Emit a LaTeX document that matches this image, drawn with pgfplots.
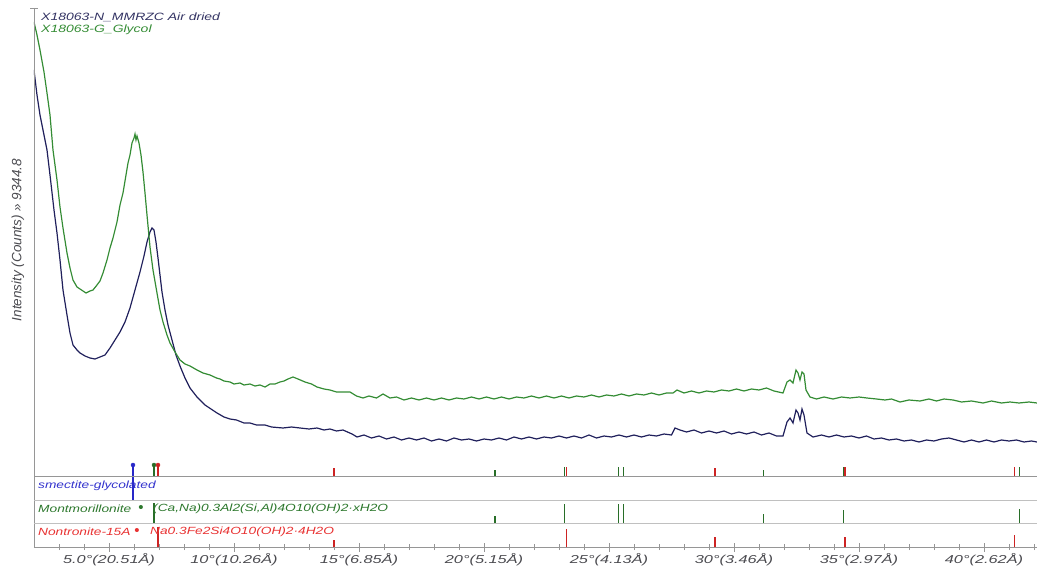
\documentclass[border=0pt]{standalone}
\usepackage{fontspec}
\setmainfont{Liberation Sans}
\newfontfamily\sfs[FakeStretch=1.32]{Liberation Sans}
\newfontfamily\sft[FakeStretch=1.42]{Liberation Sans}
\usepackage{pgfplots}
\pgfplotsset{compat=1.18}
\definecolor{cblue}{RGB}{32,32,92}
\definecolor{cgreen}{RGB}{52,140,52}
\definecolor{sgreen}{RGB}{40,110,40}
\definecolor{sred}{RGB}{205,35,35}
\definecolor{sblue}{RGB}{40,40,200}
\definecolor{lblue}{RGB}{50,50,205}
\definecolor{lgreen}{RGB}{45,120,45}
\definecolor{lred}{RGB}{232,50,50}
\definecolor{axgray}{RGB}{150,150,150}
\definecolor{txgray}{RGB}{75,75,80}
\begin{document}
\begin{tikzpicture}
\useasboundingbox (0pt,0pt) rectangle (1037pt,-569pt);
% main panel
\begin{axis}[at={(34pt,-476pt)}, anchor=south west, scale only axis,
  width=1003pt, height=468pt, xmin=2, xmax=42.12, ymin=0, ymax=468, hide axis, clip=true]
\addplot[cblue, line width=1.2pt] coordinates {
(2.00,406)(2.12,381)(2.24,361)(2.40,341)(2.52,326)(2.64,301)(2.80,266)(2.92,243)(3.04,216)(3.16,186)
(3.32,161)(3.44,143)(3.56,131)(3.72,126)(3.84,123)(4.04,120)(4.24,118)(4.44,117)(4.64,119)(4.84,121)
(5.04,128)(5.24,136)(5.44,144)(5.64,154)(5.84,168)(6.04,186)(6.24,204)(6.40,220)(6.52,234)(6.64,244)
(6.72,248)(6.80,246)(6.88,234)(6.96,218)(7.04,201)(7.12,184)(7.24,166)(7.36,151)(7.52,136)(7.68,121)
(7.84,110)(8.04,98)(8.24,88)(8.52,79)(8.84,71)(9.32,63)(9.6,59)(9.84,57)(10.1,56)(10.4,53)(10.64,53)
(10.9,51)(11.24,51)(11.5,49)(11.96,48)(12.3,49)(12.64,48)(13.0,47)(13.32,48)(13.6,46)(13.84,47)(14.1,45)
(14.36,46)(14.72,42)(14.92,39)(15.2,41)(15.5,38)(15.8,40)(16.1,37)(16.4,39)(16.7,36)(17.0,38)(17.3,36)
(17.6,38)(17.9,35)(18.2,37)(18.5,35)(18.8,38)(19.1,36)(19.4,37)(19.7,35)(20.0,37)(20.3,36)(20.6,38)
(20.9,36)(21.2,39)(21.5,37)(21.8,39)(22.1,37)(22.4,39)(22.7,38)(23.0,40)(23.3,38)(23.6,40)(23.9,38)
(24.2,41)(24.5,38)(24.8,40)(25.1,39)(25.4,41)(25.7,39)(26.0,41)(26.3,39)(26.6,41)(26.9,40)(27.2,42)
(27.5,41)(27.64,48)(27.84,46)(28.1,44)(28.4,46)(28.7,43)(29.0,45)(29.3,43)(29.6,45)(29.9,42)(30.2,44)
(30.5,42)(30.8,44)(31.1,41)(31.4,43)(31.7,40)(31.96,40)(32.12,54)(32.24,58)(32.36,53)(32.48,66)(32.56,63)
(32.64,56)(32.72,67)(32.80,61)(32.92,43)(33.16,39)(33.5,41)(33.8,39)(34.1,41)(34.4,39)(34.7,40)(35.0,38)
(35.3,40)(35.6,37)(35.9,38)(36.2,36)(36.5,37)(36.8,35)(37.1,36)(37.4,34)(37.7,36)(38.0,35)(38.3,37)
(38.6,38)(38.9,36)(39.2,34)(39.5,36)(39.8,34)(40.1,36)(40.4,34)(40.7,36)(41.0,35)(41.3,36)(41.6,34)
(41.9,35)(42.12,34)};
\addplot[cgreen, line width=1.2pt] coordinates {
(2.00,454)(2.12,441)(2.24,426)(2.40,404)(2.52,383)(2.64,361)(2.76,326)(2.92,296)(3.04,269)(3.16,248)
(3.32,223)(3.44,208)(3.56,196)(3.72,189)(3.84,187)(3.96,185)(4.08,183)(4.24,185)(4.36,186)(4.52,191)
(4.64,195)(4.76,203)(4.92,216)(5.04,228)(5.16,238)(5.32,254)(5.44,271)(5.56,283)(5.68,301)(5.76,313)
(5.84,321)(5.92,333)(6.00,338)(6.04,342)(6.08,336)(6.12,340)(6.20,333)(6.28,321)(6.36,304)(6.44,283)
(6.52,261)(6.64,229)(6.76,206)(6.92,183)(7.04,166)(7.16,154)(7.32,141)(7.44,133)(7.64,124)(7.84,116)
(8.04,112)(8.24,110)(8.52,106)(8.76,103)(9.04,101)(9.3,98)(9.44,97)(9.6,95)(9.84,94)(10.0,92)(10.24,93)
(10.4,91)(10.64,92)(10.84,90)(11.04,91)(11.24,89)(11.44,92)(11.64,92)(11.84,94)(12.0,95)(12.16,97)
(12.36,99)(12.56,97)(12.84,94)(13.1,92)(13.32,89)(13.6,87)(13.84,86)(14.1,84)(14.36,84)(14.64,84)
(14.9,80)(15.16,78)(15.4,80)(15.7,78)(15.96,82)(16.24,78)(16.5,79)(16.8,76)(17.1,78)(17.4,76)(17.7,78)
(18.0,76)(18.3,78)(18.6,76)(18.9,78)(19.2,77)(19.5,79)(19.8,77)(20.1,79)(20.4,77)(20.7,79)(21.0,77)
(21.3,79)(21.6,78)(21.9,80)(22.2,78)(22.5,80)(22.8,78)(23.1,80)(23.4,78)(23.7,80)(24.0,79)(24.3,81)
(24.6,79)(24.9,81)(25.2,80)(25.5,82)(25.8,80)(26.1,82)(26.4,81)(26.7,83)(27.0,81)(27.3,83)(27.56,83)
(27.72,86)(28.0,83)(28.3,85)(28.6,83)(28.9,85)(29.2,84)(29.5,86)(29.8,85)(30.1,87)(30.4,85)(30.7,87)
(31.0,86)(31.3,88)(31.6,85)(31.96,83)(32.12,94)(32.24,96)(32.36,93)(32.48,106)(32.56,103)(32.64,96)
(32.72,104)(32.80,102)(32.88,86)(33.04,79)(33.3,77)(33.6,79)(33.96,77)(34.3,79)(34.64,78)(35.0,79)
(35.32,78)(35.7,77)(36.04,76)(36.3,77)(36.64,74)(37.0,76)(37.44,75)(37.8,77)(38.1,75)(38.4,77)(38.76,76)
(39.1,74)(39.5,75)(39.96,73)(40.3,75)(40.7,73)(41.04,74)(41.4,73)(41.8,74)(42.12,73)};
% reference sticks in the main panel
\addplot[ycomb, sgreen, line width=1.1pt] coordinates {(6.80,11)(20.44,6)(23.23,9)(25.37,9)(25.59,9)(31.19,6)(34.39,9)(41.41,9)};
\addplot[ycomb, sred, line width=1.1pt] coordinates {(6.96,11)(14.00,8)(23.29,9)(29.24,8)(34.44,9)(41.23,9)};
\addplot[ycomb, sblue, line width=1.1pt] coordinates {(5.96,11)};
\addplot[only marks, mark=*, mark size=2pt, sblue] coordinates {(5.96,11)};
\addplot[only marks, mark=*, mark size=2pt, sgreen] coordinates {(6.80,11)};
\addplot[only marks, mark=*, mark size=2pt, sred] coordinates {(6.96,11)};
\end{axis}
% smectite-glycolated strip
\begin{axis}[at={(34pt,-500pt)}, anchor=south west, scale only axis,
  width=1003pt, height=24pt, xmin=2, xmax=42.12, ymin=0, ymax=1, hide axis]
\addplot[ycomb, sblue, line width=1.1pt] coordinates {(5.96,1)};
\end{axis}
% montmorillonite strip
\begin{axis}[at={(34pt,-523pt)}, anchor=south west, scale only axis,
  width=1003pt, height=23pt, xmin=2, xmax=42.12, ymin=0, ymax=1, hide axis]
\addplot[ycomb, sgreen, line width=1.1pt] coordinates {(6.80,0.87)(20.44,0.30)(23.23,0.83)(25.37,0.83)(25.59,0.83)(31.19,0.39)(34.39,0.57)(41.41,0.62)};
\end{axis}
% nontronite strip with the 2theta axis
\begin{axis}[at={(34pt,-547pt)}, anchor=south west, scale only axis,
  width=1003pt, height=24pt, xmin=2, xmax=42.12, ymin=0, ymax=1,
  axis x line=bottom, hide y axis, x axis line style={-, draw=axgray, line width=0.8pt},
  xtick={5,10,15,20,25,30,35,40},
  xticklabels={5.0°(20.51Å),10°(10.26Å),15°(6.85Å),20°(5.15Å),25°(4.13Å),30°(3.46Å),35°(2.97Å),40°(2.62Å)},
  minor xtick={3,4,6,7,8,9,11,12,13,14,16,17,18,19,21,22,23,24,26,27,28,29,31,32,33,34,36,37,38,39,41,42},
  tick align=center, major tick length=9pt, minor tick length=6pt,
  every tick/.style={axgray, line width=0.8pt},
  xticklabel style={font=\sft\fontsize{11.5}{12}\selectfont\itshape, text=txgray, yshift=2pt}]
\addplot[ycomb, sred, line width=1.1pt] coordinates {(6.96,0.85)(14.00,0.29)(23.29,0.75)(29.24,0.43)(34.44,0.43)(41.23,0.5)};
\end{axis}
% frame lines
\draw[axgray, line width=0.8pt] (34pt,-8pt) -- (34pt,-547pt);
\draw[axgray, line width=0.8pt] (30pt,-8pt) -- (38pt,-8pt);
\draw[axgray, line width=0.8pt] (34pt,-476pt) -- (1037pt,-476pt);
\draw[axgray!60, line width=0.7pt] (34pt,-500pt) -- (1037pt,-500pt);
\draw[axgray!60, line width=0.7pt] (34pt,-523pt) -- (1037pt,-523pt);
% texts
\node[anchor=west, inner sep=0pt, text=cblue!80!gray, font=\sfs\fontsize{10.6}{12}\selectfont\itshape] at (41pt,-17pt) {X18063-N\_MMRZC Air dried};
\node[anchor=west, inner sep=0pt, text=cgreen, font=\sfs\fontsize{10.6}{12}\selectfont\itshape] at (41pt,-30pt) {X18063-G\_Glycol};
\node[rotate=90, inner sep=0pt, text=txgray, font=\fontsize{13.5}{15}\selectfont\itshape] at (18pt,-240pt) {Intensity (Counts) » 9344.8};
\node[anchor=west, inner sep=0pt, text=lblue, font=\sfs\fontsize{10.4}{12}\selectfont\itshape] at (38pt,-486pt) {smectite-glycolated};
\node[anchor=west, inner sep=0pt, text=lgreen, font=\sfs\fontsize{10.4}{12}\selectfont\itshape] at (38pt,-509pt) {Montmorillonite};
\node[inner sep=0pt, text=lgreen, font=\fontsize{15}{15}\selectfont] at (141pt,-509pt) {•};
\node[anchor=west, inner sep=0pt, text=lgreen, font=\sfs\fontsize{10.4}{12}\selectfont\itshape] at (153pt,-509pt) {(Ca,Na)0.3Al2(Si,Al)4O10(OH)2·xH2O};
\node[anchor=west, inner sep=0pt, text=lred, font=\sfs\fontsize{10.4}{12}\selectfont\itshape] at (38pt,-532pt) {Nontronite-15A};
\node[inner sep=0pt, text=lred, font=\fontsize{15}{15}\selectfont] at (137pt,-532pt) {•};
\node[anchor=west, inner sep=0pt, text=lred, font=\sfs\fontsize{10.4}{12}\selectfont\itshape] at (150pt,-532pt) {Na0.3Fe2Si4O10(OH)2·4H2O};
\end{tikzpicture}
\end{document}
